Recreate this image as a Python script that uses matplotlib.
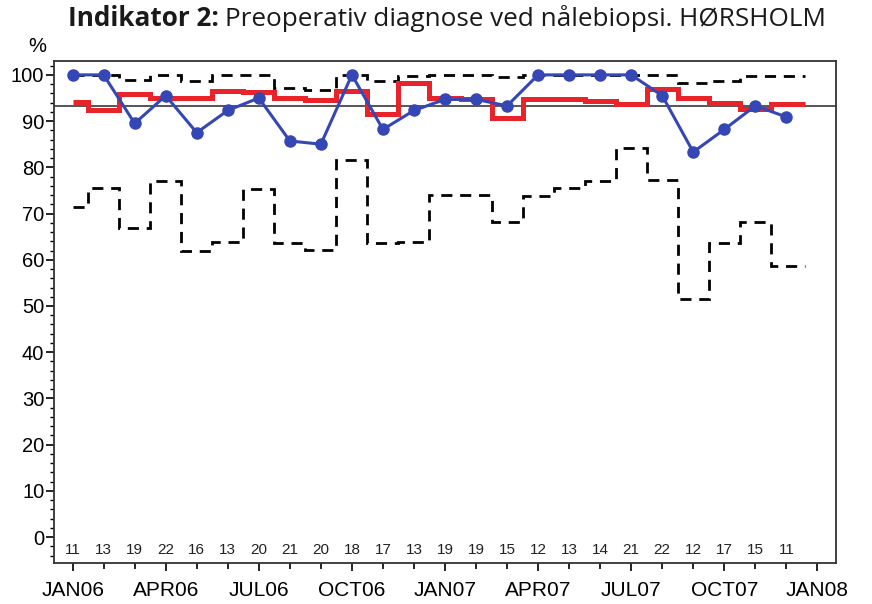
import numpy as np
import matplotlib
matplotlib.use("Agg")
from matplotlib import pyplot as plt
from matplotlib.ticker import FixedLocator, MultipleLocator

# monthly data Jan06 .. Dec07 (month index 0..23)
months = np.arange(24)
n_cases = [11, 13, 19, 22, 16, 13, 20, 21, 20, 18, 17, 13,
           19, 19, 15, 12, 13, 14, 21, 22, 12, 17, 15, 11]
pct = [100, 100, 89.5, 95.5, 87.5, 92.3, 95.0, 85.7, 85.0, 100, 88.2, 92.3,
       94.7, 94.7, 93.3, 100, 100, 100, 100, 95.5, 83.3, 88.2, 93.3, 90.9]
running = [94.2, 92.4, 95.9, 95.0, 95.0, 96.5, 96.2, 95.0, 94.6, 96.6, 91.6, 98.2,
           95.1, 94.7, 90.6, 94.7, 94.7, 94.4, 93.6, 97.0, 95.0, 93.9, 92.6, 93.6]
upper = [100, 100, 98.8, 100, 98.6, 100, 100, 97.1, 96.8, 100, 98.6, 99.8,
         100, 100, 99.6, 100, 100, 100, 100, 100, 98.2, 98.6, 99.8, 99.8]
lower = [71.5, 75.5, 66.8, 77.1, 61.8, 63.9, 75.3, 63.7, 62.1, 81.6, 63.7, 63.9,
         74.0, 74.0, 68.1, 73.7, 75.5, 77.1, 84.1, 77.3, 51.6, 63.7, 68.2, 58.7]
target = 93.3
month_labels = ["JAN06", "APR06", "JUL06", "OCT06", "JAN07",
                "APR07", "JUL07", "OCT07", "JAN08"]

sans = ["Liberation Sans", "DejaVu Sans"]

fig = plt.figure(figsize=(8.72, 6.04), dpi=100)
ax = fig.add_axes([54 / 872, 1 - 563 / 604, (836 - 54) / 872, (563 - 61) / 604])

edges = np.concatenate([[0], months[:-1] + 0.5, [23.6]])

ax.stairs(lower, edges, baseline=None, color="black", lw=2.0, ls=(0, (4, 2.8)), zorder=3)
ax.stairs(upper, edges, baseline=None, color="black", lw=2.0, ls=(0, (4, 2.8)), zorder=3)
ax.axhline(target, color="#555555", lw=1.4, zorder=2)
ax.stairs(running, edges, baseline=None, color="#e8232a", lw=3.6, zorder=4)
ax.plot(months, pct, color="#3547b5", lw=2.2, marker="o", ms=8, zorder=5)

for m, n in zip(months, n_cases):
    ax.text(m, -2.7, str(n), ha="center", va="center", fontsize=11,
            family=sans, color="#222222")

ax.set_xlim(-0.6, 24.6)
ax.set_ylim(-5.6, 103)

ax.xaxis.set_major_locator(FixedLocator(np.arange(0, 25, 3)))
ax.xaxis.set_minor_locator(FixedLocator(np.arange(0, 25, 1)))
ax.set_xticklabels(month_labels)
ax.yaxis.set_major_locator(MultipleLocator(10))
ax.yaxis.set_minor_locator(MultipleLocator(2))

ax.tick_params(axis="x", which="major", length=6, width=1.2, pad=7, labelsize=15)
ax.tick_params(axis="x", which="minor", length=4, width=1.2)
ax.tick_params(axis="y", which="major", length=6, width=1.2, pad=1, labelsize=14.5)
ax.tick_params(axis="y", which="minor", length=3, width=1.0)
for lab in ax.get_xticklabels() + ax.get_yticklabels():
    lab.set_family(sans)
for sp in ax.spines.values():
    sp.set_linewidth(1.3)
    sp.set_color("#333333")

fig.text(37 / 872, 1 - 47 / 604, "%", ha="center", va="center", fontsize=14.5, family=sans)

# title: bold part then regular part, centred as a whole
title_font = ["Open Sans", "DejaVu Sans"]
t1 = fig.text(0, 1 - 19 / 604, "Indikator 2:", ha="left", va="center",
              fontsize=18.8, weight="bold", family=title_font, color="#1a1a1a")
t2 = fig.text(0, 1 - 19 / 604, "Preoperativ diagnose ved nålebiopsi. HØRSHOLM",
              ha="left", va="center", fontsize=18.8, family=title_font, color="#1a1a1a")
fig.canvas.draw()
r = fig.canvas.get_renderer()
w1 = t1.get_window_extent(r).width
w2 = t2.get_window_extent(r).width
gap = 6
x0 = 447 - (w1 + gap + w2) / 2
t1.set_x(x0 / 872)
t2.set_x((x0 + w1 + gap) / 872)

fig.savefig("out.png", dpi=100)
